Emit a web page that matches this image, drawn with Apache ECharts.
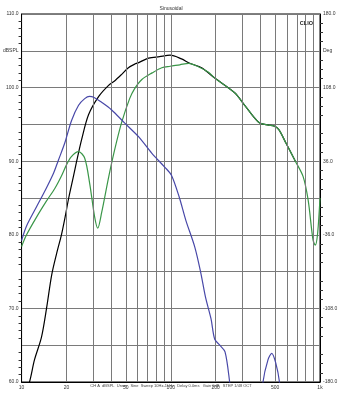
<!DOCTYPE html>
<html><head><meta charset="utf-8">
<script src="https://cdn.jsdelivr.net/npm/echarts@6/dist/echarts.min.js"></script>
<style>html,body{margin:0;padding:0;background:#fff}#c{width:342px;height:395px}</style>
</head><body><div id="c"></div>
<script>
const blackFreq  = [10, 11.3, 12.2, 13.6, 14.7, 15.9, 17.2, 18.5, 19.4, 20.7, 22.3, 23.4, 25.3, 28.1, 32.9, 38.3, 42, 46.9, 52, 57.4, 61, 71, 84, 99, 118, 134, 161, 197, 268, 313, 388, 452, 490, 530, 590, 688];
const blackLevel = [57, 60, 63, 66.1, 70, 74.5, 77.5, 80, 82, 85, 88, 90, 93, 96.3, 98.8, 100.3, 100.9, 101.8, 102.7, 103.2, 103.4, 104, 104.2, 104.4, 103.9, 103.3, 102.7, 101.3, 99.3, 97.6, 95.3, 94.9, 94.8, 94.3, 92.5, 89.9];

const greenFreq  = [10, 10.8, 12.6, 14.7, 16.7, 18.5, 20, 21.5, 24.1, 26.5, 28.6, 30.9, 32.4, 34.4, 38.4, 42, 46.9, 53, 57, 64, 75, 87, 99, 115, 132, 154, 179, 197, 268, 313, 388, 452, 490, 530, 590, 688, 771, 833, 898, 930, 964, 1000];
const greenLevel = [78.4, 80, 82.4, 84.6, 86.3, 88, 89.5, 90.6, 91.3, 90.4, 87, 82.4, 80.9, 83, 87.9, 91.5, 95.3, 98.5, 99.8, 101.1, 102, 102.7, 102.9, 103.1, 103.3, 102.8, 102.1, 101.3, 99.3, 97.6, 95.3, 94.9, 94.8, 94.3, 92.5, 89.9, 87.9, 84.7, 79.3, 78.6, 80.2, 85];

const blueFreq  = [10, 10.8, 12.6, 14.7, 16.4, 17.7, 19.5, 21.6, 24.1, 26.5, 28.5, 30.4, 34.4, 40, 49, 61, 74.5, 91, 101, 114, 126, 145, 159, 171, 186, 197, 213, 231, 248, 265, 400, 415, 448, 475, 505, 535, 560];
const blueLevel = [79.2, 81.2, 83.8, 86.4, 88.4, 90.2, 92.5, 95.5, 97.6, 98.5, 98.8, 98.7, 98, 97, 95.2, 93.3, 91.1, 89.2, 88.1, 85.1, 82, 78.3, 74.8, 71.5, 68.6, 65.8, 65, 64.1, 60, 55, 55, 60, 63, 63.9, 62.6, 60, 55];

const gridFreqs = [20, 30, 40, 50, 60, 70, 80, 90, 100, 200, 300, 400, 500, 600, 700, 800, 900];
const labeledFreqs = {20: '20', 50: '50', 200: '200', 500: '500'};
const xTickLabels = {10: '10', 100: '100', 1000: '1k'};
const leftLabels = {110: '110.0', 105: 'dBSPL', 100: '100.0', 90: '90.0', 80: '80.0', 70: '70.0', 60: '60.0'};
const rightLabels = {180: '180.0', 144: 'Deg', 108: '108.0', 36: '36.0', '-36': '-36.0', '-108': '-108.0', '-180': '-180.0'};

const zip = (a, b) => a.map((v, i) => [v, b[i]]);
const fontFam = 'Liberation Sans, Arial, sans-serif';

const chart = echarts.init(document.getElementById('c'), null, {renderer: 'canvas'});
chart.setOption({
  animation: false,
  backgroundColor: '#fff',
  title: [
    {text: 'Sinusoidal', left: 'center', top: 1, textStyle: {fontSize: 5, fontWeight: 'normal', color: '#333', fontFamily: fontFam}},
    {text: 'CLIO', right: 24, top: 15, textStyle: {fontSize: 5.5, fontWeight: 'bold', color: '#222', fontFamily: fontFam}},
    {text: 'CH A  dBSPL  Unsm   Sine  Sweep 10Hz-1kHz   Delay 0.0ms   Gain 0dB   STEP 1/48 OCT', left: 'center', bottom: 2, textStyle: {fontSize: 4, fontWeight: 'normal', color: '#444', fontFamily: fontFam}}
  ],
  grid: {left: 20, right: 22, top: 14, bottom: 13, show: true, borderColor: '#000', borderWidth: 1, backgroundColor: '#fff'},
  xAxis: {
    type: 'log', logBase: 10, min: 10, max: 1000,
    axisLine: {show: true, onZero: false, lineStyle: {color: '#000', width: 1}},
    axisTick: {show: false},
    splitLine: {show: false},
    axisLabel: {fontSize: 5, color: '#333', margin: 3, fontFamily: fontFam, formatter: v => xTickLabels[v] || ''}
  },
  yAxis: [
    {
      type: 'value', min: 60, max: 110, interval: 5, position: 'left',
      axisLine: {show: true, lineStyle: {color: '#000', width: 1}},
      axisTick: {show: false},
      minorTick: {show: true, splitNumber: 5, length: 3, lineStyle: {color: '#333'}},
      axisLabel: {fontSize: 5, color: '#333', margin: 3, fontFamily: fontFam, formatter: v => leftLabels[v] || ''},
      splitLine: {show: true, lineStyle: {color: '#7a7a7a', width: 1}}
    },
    {
      type: 'value', min: -180, max: 180, interval: 36, position: 'right',
      axisLine: {show: true, lineStyle: {color: '#000', width: 1}},
      axisTick: {show: false},
      minorTick: {show: true, splitNumber: 4, length: 3, lineStyle: {color: '#333'}},
      axisLabel: {fontSize: 5, color: '#333', margin: 3, fontFamily: fontFam, formatter: v => rightLabels[v] || ''},
      splitLine: {show: false}
    }
  ],
  series: [
    {
      type: 'line', data: zip(blackFreq, blackLevel), smooth: 0.3, showSymbol: false, clip: true,
      lineStyle: {color: '#000', width: 1.2}, z: 3,
      markLine: {
        silent: true, symbol: 'none', animation: false,
        lineStyle: {color: '#7a7a7a', type: 'solid', width: 1},
        label: {show: true, position: 'start', distance: 3, fontSize: 5, color: '#333', fontFamily: fontFam,
                formatter: p => labeledFreqs[p.value] || ''},
        data: gridFreqs.map(f => ({xAxis: f}))
      }
    },
    {
      type: 'line', data: zip(greenFreq, greenLevel), smooth: 0.3, showSymbol: false, clip: true,
      lineStyle: {color: '#3a9648', width: 1.2}, z: 4
    },
    {
      type: 'line', data: zip(blueFreq, blueLevel), smooth: 0.3, showSymbol: false, clip: true,
      lineStyle: {color: '#4848a8', width: 1.2}, z: 5
    }
  ]
});
</script></body></html>
